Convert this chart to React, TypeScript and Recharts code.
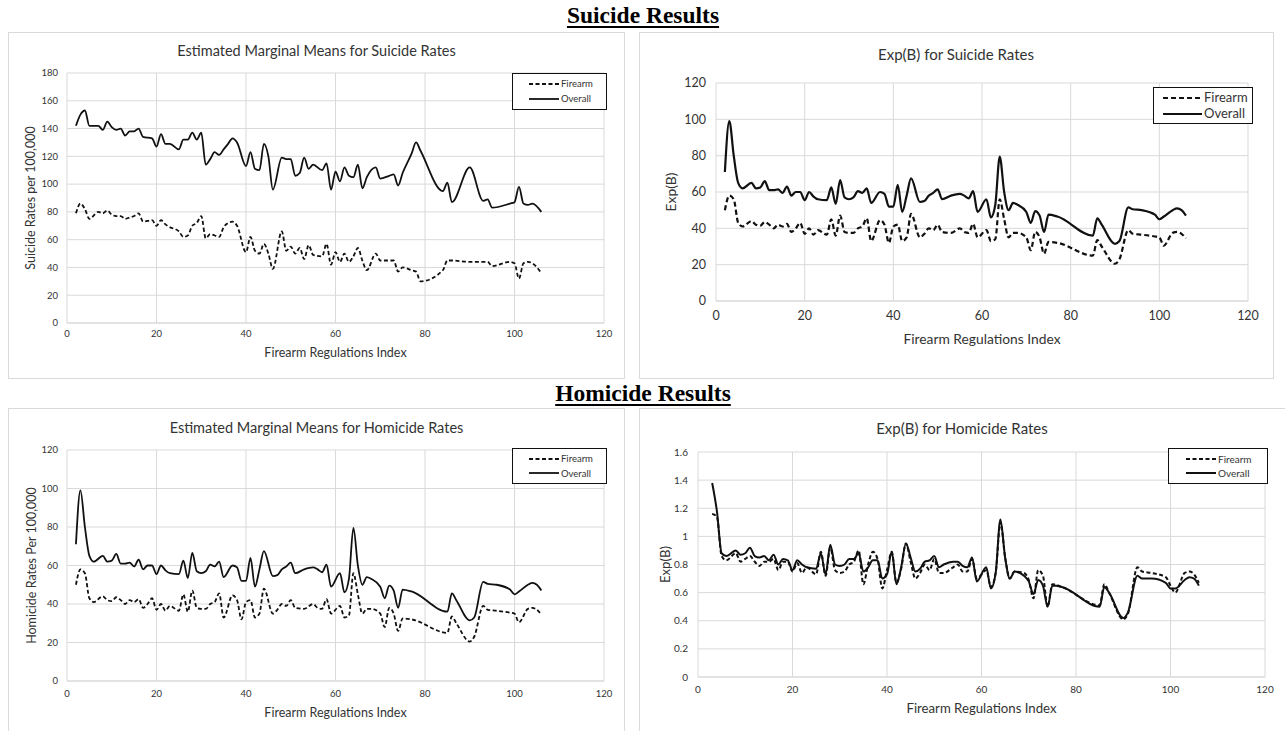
import { LineChart, Line, XAxis, YAxis, CartesianGrid } from "recharts";

/* ─── shared look ─────────────────────────────────────────────────────── */
const FONT = "Lato, 'Open Sans', sans-serif";
const GRID = "#d9d9d9";
const INK = "#111111";
const TEXT = "#333333";

const X_TICKS = [0, 20, 40, 60, 80, 100, 120];

/* ─── Estimated Marginal Means for Suicide Rates ──────────────────────── */
const SUI_EMM_X = [
  2, 3, 4, 5, 7, 8, 9, 10, 11, 12,
  13, 14, 15, 16, 17, 19, 20, 21, 22, 23,
  25, 26, 27, 28, 29, 30, 31, 32, 33, 34,
  35, 36, 37, 38, 40, 41, 42, 43, 44, 45,
  46, 48, 49, 50, 51, 52, 53, 54, 55, 57,
  58, 59, 60, 61, 62, 63, 64, 65, 66, 67,
  69, 70, 72, 73, 74, 75, 77, 78, 79, 84,
  85, 86, 90, 93, 94, 95, 99, 100, 101, 102,
  103, 104, 106,
];
const SUI_EMM_OVERALL = [
  142, 150, 153, 142, 142, 139, 145, 141, 139, 140,
  135, 138, 138, 140, 134, 133, 127, 136, 129, 129,
  125, 132, 132, 137, 132, 137, 114, 118, 123, 121,
  125, 129, 133, 130, 113, 123, 111, 110, 129, 120,
  96, 119, 118, 118, 106, 108, 119, 111, 114, 110,
  115, 96, 109, 102, 112, 106, 105, 114, 97, 105,
  112, 104, 106, 107, 99, 108, 122, 130, 124, 95,
  101, 87, 112, 88, 89, 83, 86, 87, 98, 86,
  85, 86, 80,
];
const SUI_EMM_FIREARM = [
  79, 86, 82, 75, 80, 79, 81, 78, 77, 77,
  75, 76, 77, 79, 73, 74, 70, 74, 71, 69,
  66, 62, 63, 70, 72, 77, 61, 64, 63, 62,
  69, 72, 73, 70, 51, 62, 52, 50, 57, 50,
  39, 66, 52, 55, 50, 54, 46, 56, 49, 48,
  57, 42, 51, 44, 50, 44, 48, 54, 45, 38,
  50, 45, 45, 45, 37, 40, 38, 37, 30, 38,
  45, 45, 44, 44, 44, 41, 44, 43, 32, 43,
  44, 43, 36,
];

/* ─── Exp(B) for Suicide Rates (same values in the homicide EMM panel) ── */
const EXP_X = [
  2, 3, 4, 5, 6, 8, 9, 10, 11, 12,
  13, 14, 15, 16, 17, 18, 19, 20, 21, 22,
  23, 25, 26, 27, 28, 29, 30, 31, 32, 33,
  34, 35, 37, 38, 39, 40, 41, 42, 43, 44,
  46, 47, 48, 49, 50, 51, 53, 55, 56, 57,
  58, 59, 61, 62, 63, 64, 65, 66, 67, 68,
  70, 71, 72, 73, 74, 75, 77, 85, 86, 87,
  90, 91, 93, 94, 96, 99, 100, 101, 103, 104,
  105, 106,
];
const EXP_OVERALL = [
  71, 99, 80, 65, 62, 65, 62, 62.5, 66, 61,
  61, 61.5, 59.5, 63, 58, 60, 60, 55.5, 60, 57.5,
  56, 55.5, 62.5, 53.5, 66.5, 57, 56, 57, 60.5, 59.5,
  62, 54, 60, 59, 52, 52, 64, 49, 58, 67.5,
  54.5, 55, 58, 59.5, 61.5, 56, 58, 59, 58, 56.5,
  60.5, 49, 56, 46, 53, 79.5, 60, 50, 54, 53,
  49, 43, 49.5, 47, 38, 47.5, 46.5, 36, 45.5, 42,
  31.5, 33, 51.5, 50.5, 50, 47.5, 45, 46.5, 50, 51,
  50, 47,
];
const EXP_FIREARM = [
  50, 58, 56, 43, 41, 44, 42, 41.5, 43.5, 42,
  40, 42, 41, 42.5, 38, 40, 43, 37, 40, 36.5,
  39, 36.5, 45, 36, 47, 38, 37.5, 37.5, 40, 41,
  45.5, 33, 44.5, 42, 32, 41, 42, 33, 35, 48,
  35, 37, 40, 39, 42, 38, 37.5, 40, 38, 37.5,
  42.5, 35, 39, 33, 34, 56, 45, 35, 37.5, 37.5,
  35, 28, 38, 35, 26, 32.5, 32, 25, 33.5, 30,
  20.5, 23, 39, 37, 36.5, 35.5, 35, 30.5, 37.5, 38,
  37, 34.5,
];

/* ─── Exp(B) for Homicide Rates ───────────────────────────────────────── */
const HOM_EXP_X = [
  3, 4, 5, 6, 8, 9, 10, 11, 12, 13,
  14, 15, 16, 17, 18, 19, 20, 21, 22, 23,
  25, 26, 27, 28, 29, 30, 31, 32, 33, 34,
  35, 36, 37, 38, 39, 40, 41, 42, 43, 44,
  45, 46, 47, 48, 49, 50, 51, 52, 54, 55,
  56, 57, 58, 59, 61, 62, 63, 64, 65, 66,
  67, 69, 70, 71, 72, 73, 74, 75, 77, 85,
  86, 87, 90, 91, 93, 94, 96, 99, 100, 101,
  103, 104, 105, 106,
];
const HOM_EXP_OVERALL = [
  1.38, 1.18, 0.88, 0.86, 0.9, 0.87, 0.88, 0.92, 0.86, 0.85,
  0.86, 0.83, 0.87, 0.8, 0.84, 0.83, 0.76, 0.83, 0.8, 0.78,
  0.77, 0.88, 0.73, 0.94, 0.8, 0.79, 0.8, 0.84, 0.84, 0.88,
  0.75, 0.78, 0.83, 0.83, 0.7, 0.73, 0.89, 0.66, 0.78, 0.95,
  0.85, 0.75, 0.77, 0.82, 0.83, 0.86, 0.78, 0.8, 0.82, 0.82,
  0.79, 0.78, 0.85, 0.68, 0.78, 0.63, 0.74, 1.12, 0.85, 0.7,
  0.75, 0.72, 0.68, 0.59, 0.69, 0.65, 0.5, 0.65, 0.64, 0.5,
  0.64, 0.6, 0.42, 0.46, 0.72, 0.7, 0.7, 0.67, 0.63, 0.63,
  0.69, 0.71, 0.7, 0.65,
];
const HOM_EXP_FIREARM = [
  1.16, 1.14, 0.86, 0.83, 0.88, 0.82, 0.84, 0.86, 0.82, 0.79,
  0.82, 0.82, 0.84, 0.76, 0.82, 0.82, 0.75, 0.81, 0.74, 0.78,
  0.73, 0.89, 0.72, 0.92, 0.76, 0.74, 0.75, 0.8, 0.82, 0.9,
  0.66, 0.8, 0.89, 0.84, 0.63, 0.76, 0.89, 0.67, 0.77, 0.95,
  0.82, 0.7, 0.74, 0.8, 0.76, 0.84, 0.74, 0.74, 0.78, 0.8,
  0.75, 0.75, 0.84, 0.7, 0.76, 0.64, 0.74, 1.1, 0.85, 0.7,
  0.75, 0.74, 0.69, 0.56, 0.76, 0.72, 0.5, 0.66, 0.64, 0.51,
  0.66, 0.6, 0.41, 0.45, 0.78, 0.75, 0.74, 0.71, 0.65, 0.6,
  0.74, 0.75, 0.73, 0.67,
];

const Y_TICKS_180 = [0, 20, 40, 60, 80, 100, 120, 140, 160, 180];
const Y_TICKS_120 = [0, 20, 40, 60, 80, 100, 120];
const Y_TICKS_16 = [0, 0.2, 0.4, 0.6, 0.8, 1, 1.2, 1.4, 1.6];

/* ─── panel ───────────────────────────────────────────────────────────── */

interface LegendBox {
  left: number;
  top: number;
  width: number;
  height: number;
  font: number;
  padLeft: number;
  sample: number;
}

interface PanelProps {
  left: number;
  top: number;
  width: number;
  height: number;
  boxWidth: number;
  boxHeight: number;
  title: string;
  titleY: number;
  titleSize: number;
  xs: number[];
  firearm: number[];
  overall: number[];
  yMax: number;
  yTicks: number[];
  yLabel: string;
  margin: { top: number; right: number; left: number; bottom: number };
  yAxisWidth: number;
  xAxisHeight: number;
  tickFont: number;
  xTickGap: [number, number];
  yTickGap: [number, number];
  labelFont: number;
  xLabelOffset: number;
  yLabelOffset: number;
  stroke: number;
  dash: string;
  legend: LegendBox;
}

function LegendKey({ box, stroke, dash }: { box: LegendBox; stroke: number; dash: string }) {
  const rows = [
    { name: "Firearm", dash },
    { name: "Overall", dash: undefined },
  ];
  return (
    <div
      style={{
        position: "absolute",
        left: box.left,
        top: box.top,
        width: box.width,
        height: box.height,
        border: `1.5px solid ${INK}`,
        boxSizing: "border-box",
        background: "#fff",
        display: "flex",
        flexDirection: "column",
        justifyContent: "space-evenly",
        paddingLeft: box.padLeft,
        fontFamily: FONT,
        fontSize: box.font,
        color: TEXT,
      }}
    >
      {rows.map((r) => (
        <div key={r.name} style={{ display: "flex", alignItems: "center", lineHeight: 1 }}>
          <svg width={box.sample} height={6} style={{ marginRight: 2 }}>
            <line
              x1={0}
              y1={3}
              x2={box.sample}
              y2={3}
              stroke={INK}
              strokeWidth={stroke}
              strokeDasharray={r.dash}
            />
          </svg>
          {r.name}
        </div>
      ))}
    </div>
  );
}

function Panel(p: PanelProps) {
  const data = p.xs.map((x, i) => ({ x, firearm: p.firearm[i], overall: p.overall[i] }));
  const tick = { fontSize: p.tickFont, fontFamily: FONT, fill: TEXT };
  return (
    <div
      style={{
        position: "absolute",
        left: p.left,
        top: p.top,
        width: p.boxWidth,
        height: p.boxHeight,
        border: `1px solid ${GRID}`,
        boxSizing: "border-box",
        background: "#fff",
      }}
    >
      <div
        style={{
          position: "absolute",
          left: -1,
          width: p.width,
          top: p.titleY - p.titleSize / 2 - 1,
          lineHeight: 1,
          textAlign: "center",
          fontFamily: FONT,
          fontSize: p.titleSize,
          color: TEXT,
          whiteSpace: "nowrap",
        }}
      >
        {p.title}
      </div>
      <div style={{ position: "absolute", left: -1, top: -1 }}>
        <LineChart width={p.width} height={p.height} data={data} margin={p.margin}>
          <CartesianGrid stroke={GRID} strokeWidth={1} />
          <XAxis
            dataKey="x"
            type="number"
            domain={[0, 120]}
            ticks={X_TICKS}
            tick={tick}
            tickLine={false}
            tickSize={p.xTickGap[0]}
            tickMargin={p.xTickGap[1]}
            axisLine={{ stroke: GRID }}
            height={p.xAxisHeight}
            interval={0}
            label={{
              value: "Firearm Regulations Index",
              position: "insideBottom",
              offset: p.xLabelOffset,
              style: { fontSize: p.labelFont, fontFamily: FONT, fill: TEXT },
            }}
          />
          <YAxis
            type="number"
            domain={[0, p.yMax]}
            ticks={p.yTicks}
            tick={tick}
            tickLine={false}
            tickSize={p.yTickGap[0]}
            tickMargin={p.yTickGap[1]}
            axisLine={false}
            width={p.yAxisWidth}
            interval={0}
            label={{
              value: p.yLabel,
              angle: -90,
              position: "insideLeft",
              offset: p.yLabelOffset,
              style: { fontSize: p.labelFont, fontFamily: FONT, fill: TEXT, textAnchor: "middle" },
            }}
          />
          <Line
            type="monotone"
            dataKey="firearm"
            stroke={INK}
            strokeWidth={p.stroke}
            strokeDasharray={p.dash}
            dot={false}
            isAnimationActive={false}
          />
          <Line
            type="monotone"
            dataKey="overall"
            stroke={INK}
            strokeWidth={p.stroke}
            dot={false}
            isAnimationActive={false}
          />
        </LineChart>
      </div>
      <LegendKey box={p.legend} stroke={p.stroke} dash={p.dash} />
    </div>
  );
}

function Heading({ text, y }: { text: string; y: number }) {
  return (
    <div
      style={{
        position: "absolute",
        left: 0,
        width: 1286,
        top: y,
        textAlign: "center",
        fontFamily: "'Liberation Serif', 'Times New Roman', serif",
        fontWeight: 700,
        fontSize: 23.5,
        lineHeight: 1,
        color: "#000",
        textDecoration: "underline",
        textDecorationThickness: 2,
        textUnderlineOffset: 3,
      }}
    >
      {text}
    </div>
  );
}

export default function App() {
  return (
    <div
      style={{
        position: "absolute",
        left: 0,
        top: 0,
        width: 1285,
        height: 731,
        overflow: "hidden",
        background: "#fff",
      }}
    >
      <Heading text="Suicide Results" y={4} />
      <Heading text="Homicide Results" y={382} />

      <Panel
        left={8}
        top={32}
        width={617}
        height={347}
        boxWidth={617}
        boxHeight={347}
        title="Estimated Marginal Means for Suicide Rates"
        titleY={19}
        titleSize={14.5}
        xs={SUI_EMM_X}
        firearm={SUI_EMM_FIREARM}
        overall={SUI_EMM_OVERALL}
        yMax={180}
        yTicks={Y_TICKS_180}
        yLabel="Suicide Rates per 100,000"
        margin={{ top: 41, right: 21, left: 15, bottom: 16 }}
        yAxisWidth={44}
        xAxisHeight={40}
        tickFont={9.5}
        xTickGap={[4, 3]}
        yTickGap={[4, 5]}
        labelFont={12.5}
        xLabelOffset={6}
        yLabelOffset={8}
        stroke={1.8}
        dash="4 2.5"
        legend={{ left: 503, top: 40, width: 95, height: 37, font: 9.5, padLeft: 16, sample: 30 }}
      />

      <Panel
        left={639}
        top={32}
        width={634}
        height={347}
        boxWidth={635}
        boxHeight={347}
        title="Exp(B) for Suicide Rates"
        titleY={22}
        titleSize={15}
        xs={EXP_X}
        firearm={EXP_FIREARM}
        overall={EXP_OVERALL}
        yMax={120}
        yTicks={Y_TICKS_120}
        yLabel="Exp(B)"
        margin={{ top: 51, right: 25, left: 20, bottom: 28 }}
        yAxisWidth={57}
        xAxisHeight={50}
        tickFont={12.5}
        xTickGap={[6, 4]}
        yTickGap={[6, 4]}
        labelFont={13.8}
        xLabelOffset={7}
        yLabelOffset={12}
        stroke={2.2}
        dash="5 3"
        legend={{ left: 513, top: 54, width: 100, height: 37, font: 13, padLeft: 9, sample: 39 }}
      />

      <Panel
        left={8}
        top={408}
        width={617}
        height={323}
        boxWidth={617}
        boxHeight={340}
        title="Estimated Marginal Means for Homicide Rates"
        titleY={20}
        titleSize={14.5}
        xs={EXP_X}
        firearm={EXP_FIREARM}
        overall={EXP_OVERALL}
        yMax={120}
        yTicks={Y_TICKS_120}
        yLabel="Homicide Rates Per 100,000"
        margin={{ top: 42, right: 21, left: 15, bottom: 10 }}
        yAxisWidth={44}
        xAxisHeight={40}
        tickFont={9.5}
        xTickGap={[4, 5]}
        yTickGap={[4, 5]}
        labelFont={12.5}
        xLabelOffset={4}
        yLabelOffset={9}
        stroke={1.8}
        dash="4 2.5"
        legend={{ left: 503, top: 39, width: 95, height: 36, font: 9.5, padLeft: 16, sample: 30 }}
      />

      <Panel
        left={639}
        top={408}
        width={646}
        height={323}
        boxWidth={660}
        boxHeight={340}
        title="Exp(B) for Homicide Rates"
        titleY={20}
        titleSize={15}
        xs={HOM_EXP_X}
        firearm={HOM_EXP_FIREARM}
        overall={HOM_EXP_OVERALL}
        yMax={1.6}
        yTicks={Y_TICKS_16}
        yLabel="Exp(B)"
        margin={{ top: 44, right: 20, left: 15, bottom: 10 }}
        yAxisWidth={44}
        xAxisHeight={44}
        tickFont={10}
        xTickGap={[5, 4]}
        yTickGap={[5, 5]}
        labelFont={13.2}
        xLabelOffset={8}
        yLabelOffset={11}
        stroke={2}
        dash="4 2.5"
        legend={{ left: 528, top: 39, width: 100, height: 36, font: 10, padLeft: 17, sample: 30 }}
      />
    </div>
  );
}
